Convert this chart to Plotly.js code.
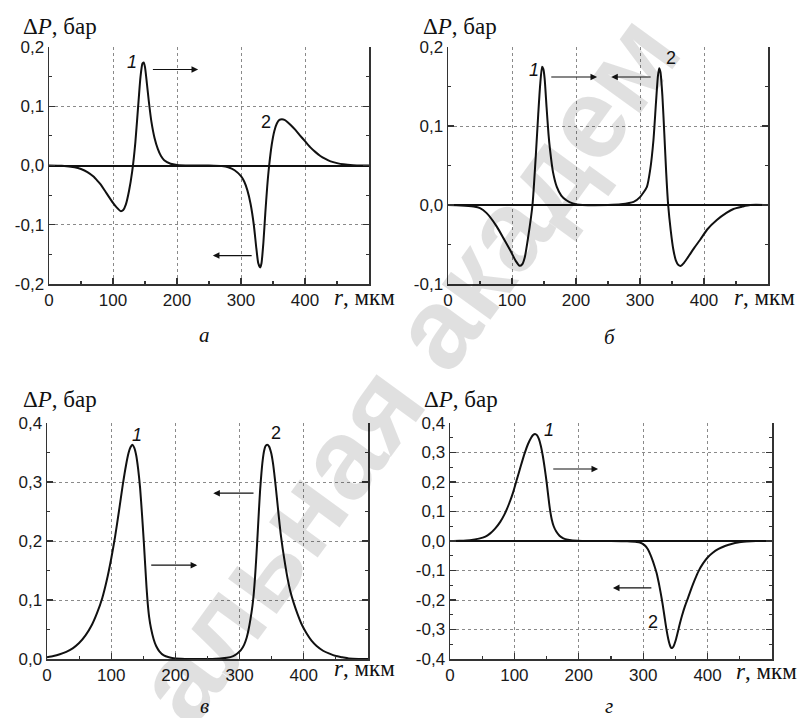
<!DOCTYPE html>
<html><head><meta charset="utf-8">
<script src="https://cdn.plot.ly/plotly-3.0.1.min.js"></script>
<style>html,body{margin:0;padding:0;background:#fff}</style>
</head><body><div id="chart" style="width:804px;height:718px"></div>
<script>
// ---------- data (r, мкм ; ΔP, бар) ----------
const xTickVals = [0, 100, 200, 300, 400];
const xTickText = ['0', '100', '200', '300', '400'];
const xMinorVals = [50, 150, 250, 350, 450];

const yTickValsA = [-0.2, -0.1, 0, 0.1, 0.2];
const yTickTextA = ['-0,2', '-0,1', '0,0', '0,1', '0,2'];
const yTickValsB = [-0.1, 0, 0.1, 0.2];
const yTickTextB = ['-0,1', '0,0', '0,1', '0,2'];
const yTickValsV = [0, 0.1, 0.2, 0.3, 0.4];
const yTickTextV = ['0,0', '0,1', '0,2', '0,3', '0,4'];
const yTickValsG = [-0.4, -0.3, -0.2, -0.1, 0, 0.1, 0.2, 0.3, 0.4];
const yTickTextG = ['-0,4', '-0,3', '-0,2', '-0,1', '0,0', '0,1', '0,2', '0,3', '0,4'];

// panel а
const rA1 = [0, 20, 40, 50, 60, 70, 75, 80, 90, 100, 106, 112, 116, 120, 125, 130, 135, 140, 143, 146, 148, 150, 153, 156, 160, 165, 170, 175, 180, 190, 200, 220, 250];
const pA1 = [0, -0.0005, -0.003, -0.006, -0.011, -0.019, -0.025, -0.031, -0.047, -0.063, -0.071, -0.077, -0.075, -0.066, -0.043, -0.010, 0.040, 0.110, 0.150, 0.172, 0.174, 0.166, 0.138, 0.108, 0.074, 0.046, 0.028, 0.016, 0.009, 0.003, 0.001, 0, 0];
const rA2 = [250, 270, 280, 290, 300, 305, 310, 315, 320, 324, 327, 330, 332, 335, 338, 341, 344, 348, 352, 356, 360, 364, 368, 372, 378, 385, 392, 400, 408, 416, 424, 432, 440, 450, 460, 475, 490, 500];
const pA2 = [0, -0.001, -0.003, -0.008, -0.018, -0.027, -0.042, -0.065, -0.100, -0.140, -0.165, -0.172, -0.165, -0.130, -0.080, -0.035, 0.0, 0.035, 0.058, 0.071, 0.077, 0.078, 0.077, 0.074, 0.068, 0.060, 0.051, 0.041, 0.031, 0.023, 0.016, 0.011, 0.007, 0.004, 0.002, 0.0005, 0, 0];

// panel б
const rB1 = [0, 20, 40, 50, 60, 76, 88, 97, 106, 112, 116, 120, 125, 132, 137, 141, 144, 147, 149, 151, 154, 157, 159.4, 164, 170, 177, 185, 195, 210, 250];
const pB1 = [0, -0.0005, -0.002, -0.004, -0.010, -0.027, -0.044, -0.057, -0.071, -0.077, -0.075, -0.066, -0.042, 0.0, 0.060, 0.115, 0.152, 0.175, 0.172, 0.160, 0.124, 0.090, 0.070, 0.042, 0.023, 0.012, 0.006, 0.002, 0, 0];
const rB2 = [250, 270, 290, 300, 310.8, 316, 321, 325, 328, 330, 332, 335, 338, 341, 344, 348, 352, 356, 360, 364, 368, 375, 385, 394, 405, 420, 435, 446, 460, 472, 500];
const pB2 = [0, 0.001, 0.004, 0.010, 0.023, 0.045, 0.082, 0.130, 0.163, 0.173, 0.168, 0.138, 0.090, 0.040, 0.0, -0.032, -0.056, -0.070, -0.076, -0.077, -0.074, -0.066, -0.054, -0.044, -0.031, -0.019, -0.010, -0.005, -0.002, 0, 0];

// panel в
const rV1 = [0, 10, 20, 30, 40, 50, 60, 70, 78, 86, 93, 100, 106, 112, 118, 123, 127, 130, 133, 136, 139, 142, 145, 148, 151, 153, 155, 157, 159, 162, 166, 170, 175, 182, 190, 200, 215, 250];
const pV1 = [0.003, 0.005, 0.008, 0.012, 0.018, 0.027, 0.040, 0.058, 0.078, 0.103, 0.133, 0.170, 0.207, 0.250, 0.295, 0.328, 0.349, 0.359, 0.363, 0.358, 0.345, 0.322, 0.290, 0.245, 0.195, 0.158, 0.122, 0.093, 0.072, 0.052, 0.034, 0.022, 0.013, 0.006, 0.003, 0.001, 0, 0];
const rV2 = [250, 270, 280, 290, 296, 302, 307, 311, 314, 317, 320, 322, 324, 326, 328, 330, 332, 334, 336, 338, 340, 343, 346, 349, 352, 355, 358, 361, 364, 367, 371, 375, 379, 384, 390, 397, 404, 412, 420, 430, 440, 450, 460, 470, 485, 500];
const pV2 = [0, 0.001, 0.002, 0.005, 0.009, 0.015, 0.024, 0.036, 0.050, 0.068, 0.090, 0.110, 0.138, 0.172, 0.210, 0.250, 0.287, 0.315, 0.337, 0.352, 0.360, 0.363, 0.360, 0.350, 0.332, 0.305, 0.274, 0.242, 0.212, 0.188, 0.160, 0.135, 0.115, 0.096, 0.077, 0.058, 0.044, 0.031, 0.022, 0.014, 0.009, 0.005, 0.003, 0.001, 0, 0];

// panel г
const rG1 = [0, 15, 31, 45, 55, 62, 70, 78, 85, 92, 98, 104, 110, 116, 121, 126, 129, 132, 135, 138, 141, 144, 147, 150, 152, 154, 156, 158, 161, 165, 170, 176, 183, 191, 205, 250];
const pG1 = [0, 0.001, 0.003, 0.008, 0.015, 0.025, 0.042, 0.065, 0.092, 0.128, 0.165, 0.210, 0.255, 0.298, 0.328, 0.350, 0.359, 0.363, 0.359, 0.346, 0.323, 0.290, 0.248, 0.200, 0.163, 0.127, 0.096, 0.073, 0.050, 0.032, 0.018, 0.009, 0.004, 0.002, 0, 0];
const rG2 = [250, 275, 290, 295, 302, 307, 311, 315, 318, 321, 324, 327, 330, 333, 336, 339, 341, 343, 345, 347, 350, 353, 356, 360, 365, 370, 375, 380, 386, 393, 400, 408, 417, 427, 437, 447, 460, 475, 500];
const pG2 = [0, -0.001, -0.003, -0.005, -0.014, -0.027, -0.045, -0.068, -0.088, -0.110, -0.140, -0.174, -0.212, -0.255, -0.298, -0.333, -0.350, -0.361, -0.363, -0.358, -0.340, -0.315, -0.288, -0.255, -0.220, -0.190, -0.160, -0.132, -0.102, -0.076, -0.056, -0.040, -0.027, -0.017, -0.010, -0.005, -0.002, 0, 0];

// ---------- layout helpers ----------
const W = 804, H = 718;
const PX = v => v / W, PY = v => 1 - v / H;
const tickFont = {family: 'Liberation Sans, Arial, sans-serif', size: 17, color: '#1a1a1a'};
const axColor = '#333';

function xax(d0, d1, anchor) {
  return {
    domain: [PX(d0), PX(d1)], anchor: anchor, range: [0, 500],
    tickmode: 'array', tickvals: xTickVals, ticktext: xTickText,
    ticks: 'inside', ticklen: 6, tickwidth: 1.2, tickcolor: axColor,
    showline: true, linecolor: axColor, linewidth: 1.5, mirror: false,
    showgrid: true, gridcolor: '#8a8a8a', griddash: 'dot', gridwidth: 1,
    zeroline: false, tickfont: tickFont, fixedrange: true,
    minor: {tickmode: 'array', tickvals: xMinorVals, ticks: 'inside', ticklen: 3, tickcolor: axColor, showgrid: false}
  };
}
function yax(d0, d1, anchor, range, vals, text, zl) {
  const minorVals = [];
  for (let i = 0; i < vals.length - 1; i++) minorVals.push((vals[i] + vals[i + 1]) / 2);
  return {
    domain: [PY(d1), PY(d0)], anchor: anchor, range: range,
    tickmode: 'array', tickvals: vals, ticktext: text,
    ticks: 'inside', ticklen: 6, tickwidth: 1.2, tickcolor: axColor,
    showline: true, linecolor: axColor, linewidth: 1.5, mirror: 'ticks',
    showgrid: true, gridcolor: '#8a8a8a', griddash: 'dot', gridwidth: 1,
    zeroline: zl, zerolinecolor: '#111', zerolinewidth: 2,
    tickfont: tickFont, fixedrange: true,
    minor: {tickmode: 'array', tickvals: minorVals, ticks: 'inside', ticklen: 3, tickcolor: axColor, showgrid: false}
  };
}

const lineStyle = {color: '#111', width: 2, shape: 'spline', smoothing: 0.6};
function tr(x, y, xa, ya) { return {x: x, y: y, xaxis: xa, yaxis: ya, mode: 'lines', line: lineStyle, hoverinfo: 'skip'}; }

const data = [
  tr(rA1, pA1, 'x', 'y'), tr(rA2, pA2, 'x', 'y'),
  tr(rB1, pB1, 'x2', 'y2'), tr(rB2, pB2, 'x2', 'y2'),
  tr(rV1, pV1, 'x3', 'y3'), tr(rV2, pV2, 'x3', 'y3'),
  tr(rG1, pG1, 'x4', 'y4'), tr(rG2, pG2, 'x4', 'y4')
];

const serif = 'Liberation Serif, Times New Roman, serif';
const ann = [];

// watermark (drawn first, semi-transparent)
ann.push({xref: 'paper', yref: 'paper', x: PX(406), y: PY(368), text: '<b>альная академ</b>', showarrow: false,
  textangle: -54, xanchor: 'center', yanchor: 'middle',
  font: {family: 'Liberation Sans, Arial, sans-serif', size: 114, color: 'rgba(0,0,0,0.12)'}});

function paperText(text, x, y, size, xanchor, fam) {
  ann.push({xref: 'paper', yref: 'paper', x: PX(x), y: PY(y), text: text, showarrow: false,
    xanchor: xanchor || 'center', yanchor: 'middle', font: {family: fam || serif, size: size, color: '#111'}});
}
// axis titles
[[21, 27], [421, 27], [21, 399], [422, 399]].forEach(p => paperText('Δ<i>P</i>, бар', p[0], p[1], 23, 'left'));
[[332, 298], [732, 298], [332, 668], [734, 671]].forEach(p => paperText('<i>r</i>, мкм', p[0], p[1], 23, 'left'));
// panel letters
paperText('<i>а</i>', 204, 335, 21);
paperText('<i>б</i>', 610, 337, 21);
paperText('<i>в</i>', 205, 706, 21);
paperText('<i>г</i>', 609, 706, 21);

// curve numbers
function num(text, x, y, xa, ya, italic) {
  ann.push({xref: xa, yref: ya, x: x, y: y, text: italic ? '<i>' + text + '</i>' : text, showarrow: false,
    font: {family: 'Liberation Sans, Arial, sans-serif', size: 18, color: '#111'}});
}
num('1', 130, 0.174, 'x', 'y', true);  num('2', 339, 0.073, 'x', 'y', false);
num('1', 135, 0.171, 'x2', 'y2', true); num('2', 348, 0.186, 'x2', 'y2', false);
num('1', 140, 0.38, 'x3', 'y3', true);  num('2', 357, 0.383, 'x3', 'y3', false);
num('1', 154, 0.376, 'x4', 'y4', true); num('2', 315, -0.275, 'x4', 'y4', false);

// direction arrows
function arrow(x0, x1, y, xa, ya) {
  ann.push({xref: xa, yref: ya, axref: xa, ayref: ya, x: x1, y: y, ax: x0, ay: y, text: '',
    showarrow: true, arrowhead: 2, arrowsize: 1.1, arrowwidth: 1.2, arrowcolor: '#111', standoff: 0, startstandoff: 0});
}
arrow(160, 233, 0.162, 'x', 'y');   arrow(319, 256, -0.152, 'x', 'y');
arrow(159, 233, 0.162, 'x2', 'y2'); arrow(319, 255, 0.162, 'x2', 'y2');
arrow(160, 234, 0.159, 'x3', 'y3'); arrow(324, 259, 0.281, 'x3', 'y3');
arrow(158, 230, 0.244, 'x4', 'y4'); arrow(315, 253, -0.159, 'x4', 'y4');

const layout = {
  width: W, height: H, margin: {l: 0, r: 0, t: 0, b: 0},
  paper_bgcolor: '#fff', plot_bgcolor: '#fff', showlegend: false, hovermode: false,
  xaxis: xax(49, 369, 'y'),   yaxis: yax(47, 284, 'x', [-0.2, 0.2], yTickValsA, yTickTextA, true),
  xaxis2: xax(448, 768, 'y2'), yaxis2: yax(47, 284, 'x2', [-0.1, 0.2], yTickValsB, yTickTextB, true),
  xaxis3: xax(47, 368, 'y3'),  yaxis3: yax(423, 659, 'x3', [0, 0.4], yTickValsV, yTickTextV, false),
  xaxis4: xax(450, 772, 'y4'), yaxis4: yax(423, 659, 'x4', [-0.4, 0.4], yTickValsG, yTickTextG, true),
  annotations: ann
};
Plotly.newPlot('chart', data, layout, {staticPlot: true, displayModeBar: false});
</script></body></html>
